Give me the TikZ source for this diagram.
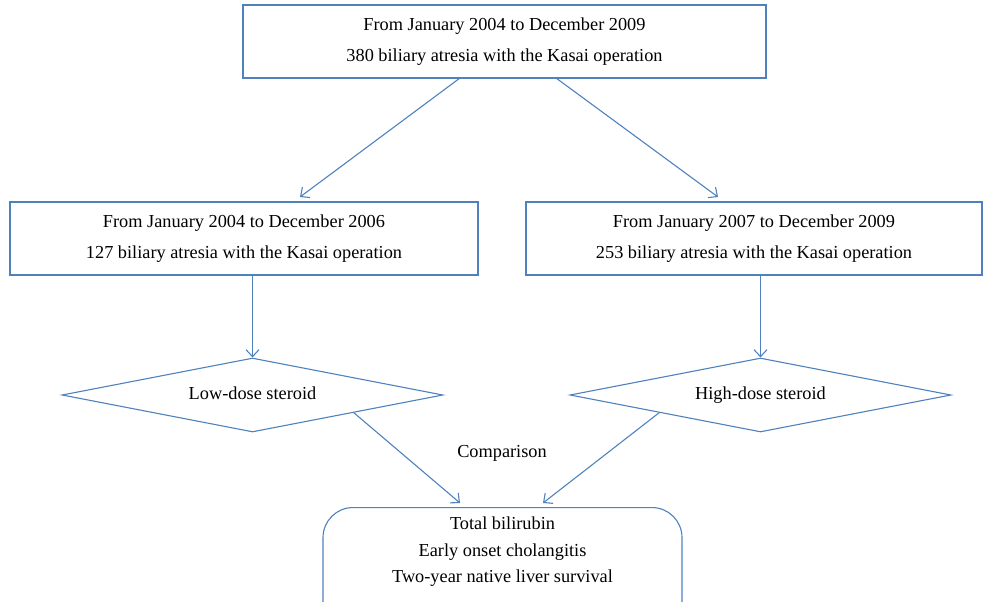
\documentclass[tikz,border=0pt]{standalone}
\usepackage{fontspec}
\setmainfont{Liberation Serif}
\usetikzlibrary{shapes.geometric,arrows.meta,calc}
\definecolor{lineblue}{HTML}{4F81BD}
\tikzset{
  box/.style={draw=lineblue, line width=1.1pt, rectangle, minimum height=73pt, align=center, inner sep=0pt, font=\fontsize{18.3}{31}\selectfont},
  dia/.style={draw=lineblue, line width=1.1pt, diamond, aspect=5, inner sep=0pt, minimum width=381pt, minimum height=74pt, text height=12pt, text depth=4pt, font=\fontsize{18.3}{22}\selectfont},
  resbox/.style={draw=lineblue, line width=1.1pt, rectangle, rounded corners=30pt, minimum width=359pt, minimum height=140pt, inner sep=0pt},
  txt/.style={align=center, inner sep=0pt, font=\fontsize{18.3}{26.5}\selectfont},
  conn/.style={draw=lineblue, line width=1.1pt, -{Straight Barb[length=7pt,width=13pt,line width=1.1pt]}}
}
\begin{document}
\begin{tikzpicture}[x=1pt,y=-1pt]
\useasboundingbox (0,0) rectangle (983,602);
\clip (0,0) rectangle (983,602);
\node[box, minimum width=523pt] (top) at (504.5,41.5) {From January 2004 to December 2009\\380 biliary atresia with the Kasai operation};
\node[box, minimum width=468pt] (left) at (244,238.5) {From January 2004 to December 2006\\127 biliary atresia with the Kasai operation};
\node[box, minimum width=456pt] (right) at (754,238.5) {From January 2007 to December 2009\\253 biliary atresia with the Kasai operation};
\node[dia] (ld) at (252.5,395) {Low-dose steroid};
\node[dia] (hd) at (760.5,395) {High-dose steroid};
\node[resbox, anchor=north] (res) at (502.5,507) {};
\node[txt, anchor=north] (reslbl) at ($(res.north)+(0,10)$) {Total bilirubin\\Early onset cholangitis\\Two-year native liver survival};
\node[txt] (cmp) at (502,453) {Comparison};
\coordinate (t1) at (460,78);
\coordinate (t2) at (556,78);
\coordinate (lt) at (300,197);
\coordinate (rt) at (718,197);
\draw[conn] (t1) -- (lt);
\draw[conn] (t2) -- (rt);
\draw[conn] (left.south -| ld.north) -- (ld.north);
\draw[conn] (right.south -| hd.north) -- (hd.north);
\coordinate (le) at ($(ld.east)!0.47!(ld.south)$);
\coordinate (he) at ($(hd.west)!0.47!(hd.south)$);
\coordinate (re1) at (460,503);
\coordinate (re2) at (543,503);
\draw[conn] (le) -- (re1);
\draw[conn] (he) -- (re2);
\end{tikzpicture}
\end{document}
